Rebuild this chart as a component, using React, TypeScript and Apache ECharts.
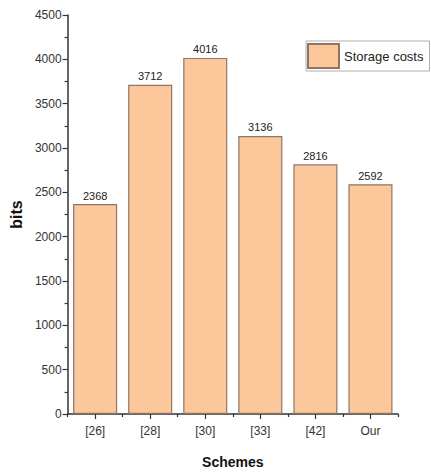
import React, { useEffect, useRef } from "react";
import * as echarts from "echarts";

const categories = ["[26]", "[28]", "[30]", "[33]", "[42]", "Our"];
const storageCosts = [2368, 3712, 4016, 3136, 2816, 2592];
const seriesName = "Storage costs";
const yAxisTitle = "bits";
const xAxisTitle = "Schemes";

const FONT = "'Liberation Sans', Arial, sans-serif";

export default function App() {
  const ref = useRef<HTMLDivElement>(null);
  useEffect(() => {
    if (!ref.current) return;
    const chart = echarts.init(ref.current, undefined, { renderer: "svg" });
    chart.setOption({
      animation: false,
      backgroundColor: "#ffffff",
      grid: { left: 67, right: 33, top: 15, bottom: 62, containLabel: false },
      legend: {
        data: [seriesName],
        left: 306,
        top: 41,
        padding: [2, 6, 2, 1],
        itemWidth: 31,
        itemHeight: 24,
        borderColor: "#b0b0b0",
        borderWidth: 1,
        icon: "rect",
        textStyle: { fontFamily: FONT, fontSize: 13, color: "#222" },
      },
      xAxis: [
        {
          type: "category",
          data: categories,
          axisLine: { show: true, lineStyle: { color: "#333", width: 1.5 } },
          axisTick: { show: true, alignWithLabel: true, length: 5, lineStyle: { color: "#333", width: 1.2 } },
          axisLabel: { fontFamily: FONT, fontSize: 12, color: "#333", margin: 11 },
          name: xAxisTitle,
          nameLocation: "middle",
          nameGap: 41,
          nameTextStyle: { fontFamily: FONT, fontSize: 14, fontWeight: "bold", color: "#111" },
        },
        {
          type: "category",
          data: categories,
          position: "bottom",
          axisLine: { show: false },
          axisTick: { show: true, length: 3, lineStyle: { color: "#333", width: 1.2 } },
          axisLabel: { show: false },
        },
      ],
      yAxis: {
        type: "value",
        min: 0,
        max: 4500,
        interval: 500,
        axisLine: { show: true, lineStyle: { color: "#333", width: 1.5 } },
        axisTick: { show: true, length: 5, lineStyle: { color: "#333", width: 1.2 } },
        minorTick: { show: true, splitNumber: 2, length: 3, lineStyle: { color: "#333", width: 1.2 } },
        splitLine: { show: false },
        axisLabel: {
          fontFamily: FONT,
          fontSize: 12,
          color: "#333",
          margin: 6,
          formatter: (v: number) => String(v),
        },
        name: yAxisTitle,
        nameLocation: "middle",
        nameGap: 38,
        nameTextStyle: { fontFamily: FONT, fontSize: 16, fontWeight: "bold", color: "#111" },
      },
      series: [
        {
          name: seriesName,
          type: "bar",
          data: storageCosts,
          barCategoryGap: "20%",
          itemStyle: { color: "#FCC89B", borderColor: "#8f7664", borderWidth: 1.2 },
          label: {
            show: true,
            position: "top",
            distance: 3,
            fontFamily: FONT,
            fontSize: 11,
            color: "#222",
          },
        },
      ],
    });
    return () => chart.dispose();
  }, []);
  return <div ref={ref} style={{ width: 431, height: 476, position: "absolute", left: 0, top: 0 }} />;
}
